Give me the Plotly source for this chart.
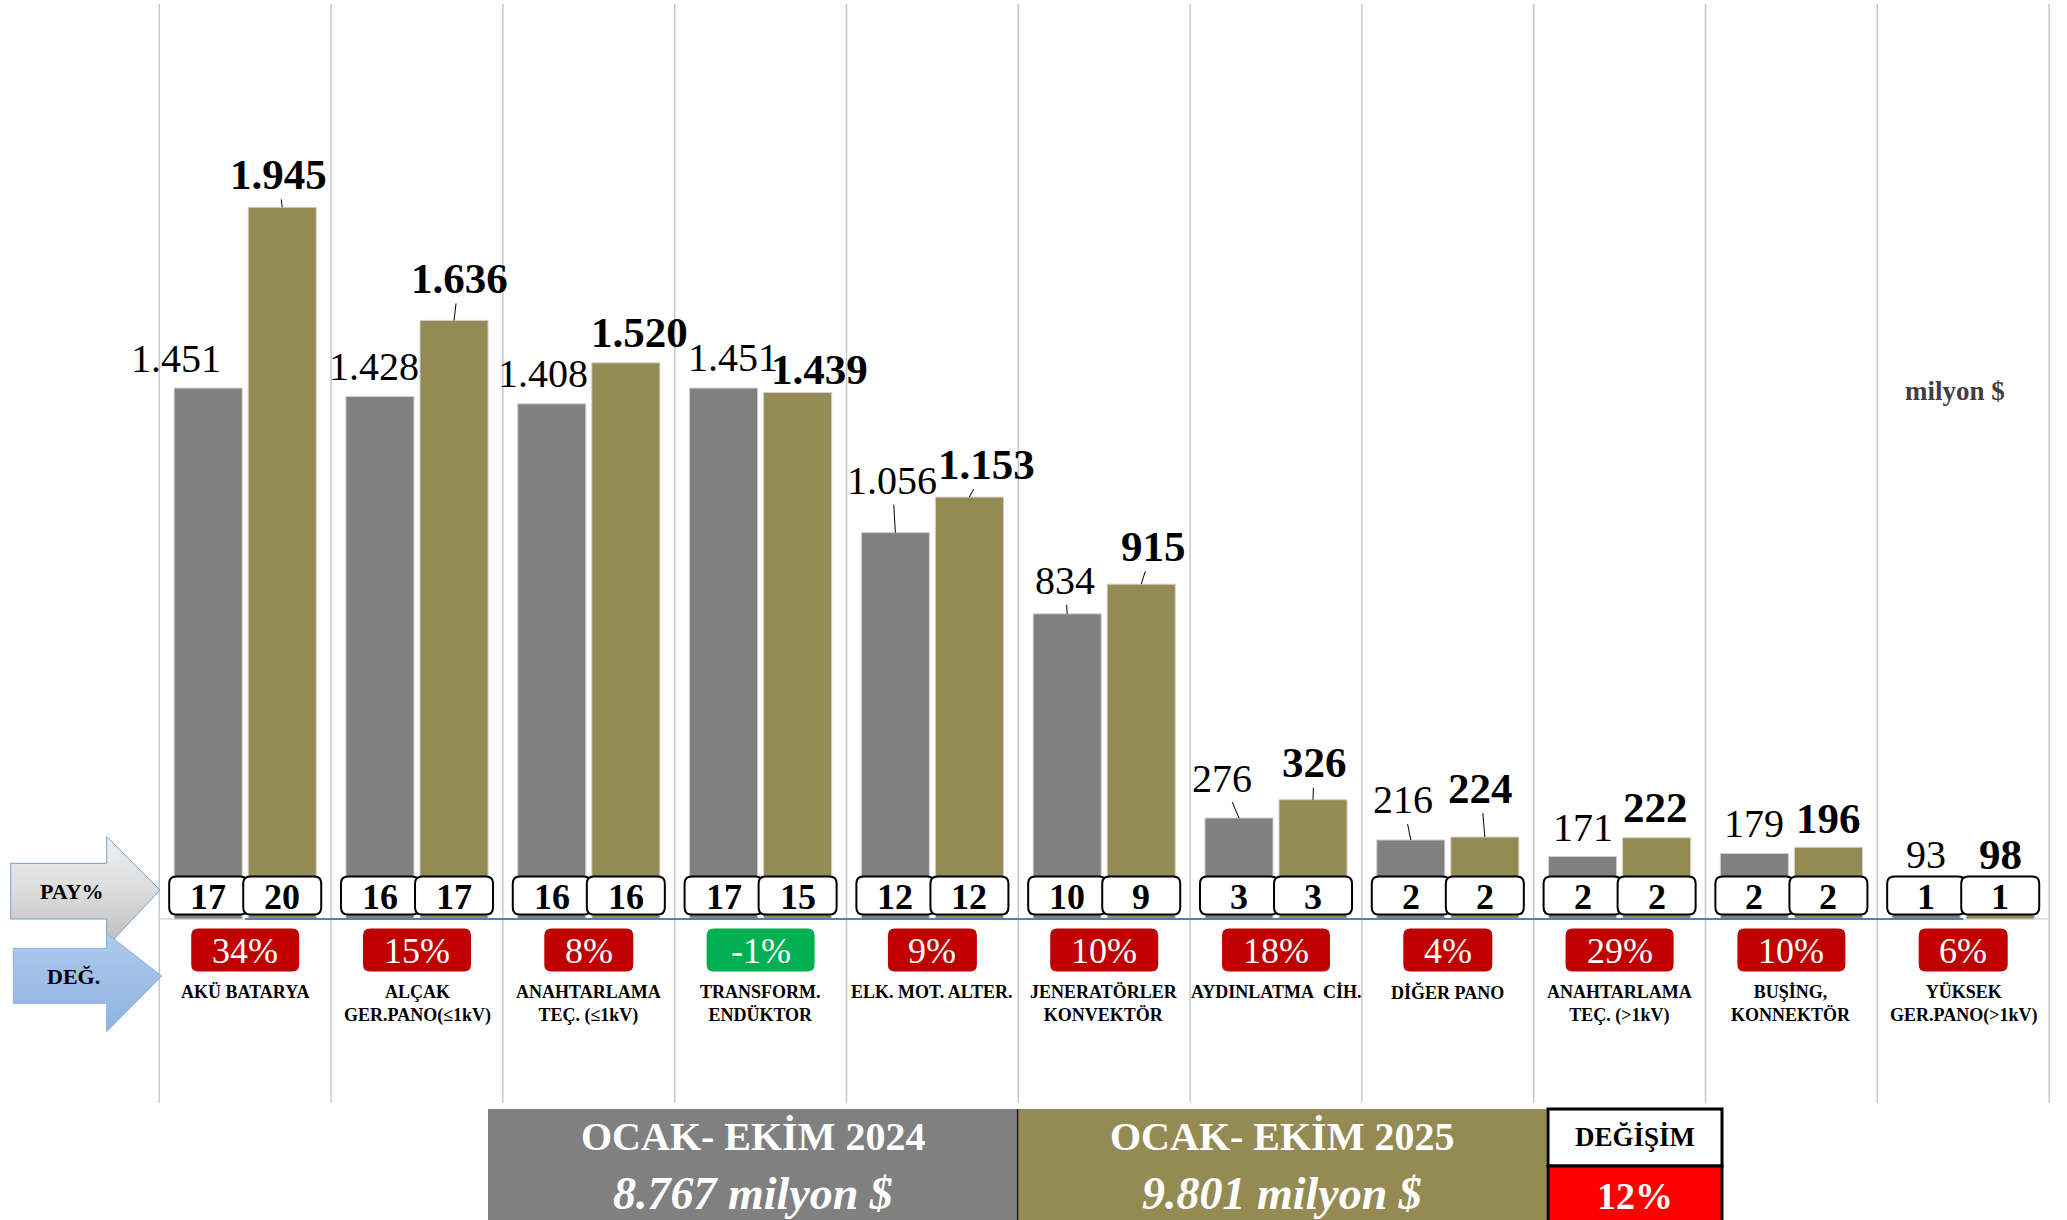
import plotly.graph_objects as go

# ---- data ---------------------------------------------------------------
categories = [
    "AKÜ BATARYA",
    "ALÇAK<br>GER.PANO(≤1kV)",
    "ANAHTARLAMA<br>TEÇ. (≤1kV)",
    "TRANSFORM.<br>ENDÜKTOR",
    "ELK. MOT. ALTER.",
    "JENERATÖRLER<br>KONVEKTÖR",
    "AYDINLATMA\u00a0 CİH.",
    "DİĞER PANO",
    "ANAHTARLAMA<br>TEÇ. (>1kV)",
    "BUŞİNG,<br>KONNEKTÖR",
    "YÜKSEK<br>GER.PANO(>1kV)",
]
values_2024 = [1451, 1428, 1408, 1451, 1056, 834, 276, 216, 171, 179, 93]
values_2025 = [1945, 1636, 1520, 1439, 1153, 915, 326, 224, 222, 196, 98]
share_2024 = [17, 16, 16, 17, 12, 10, 3, 2, 2, 2, 1]
share_2025 = [20, 17, 16, 15, 12, 9, 3, 2, 2, 2, 1]
change_pct = [34, 15, 8, -1, 9, 10, 18, 4, 29, 10, 6]
period_2024 = "OCAK- EKİM 2024"
period_2025 = "OCAK- EKİM 2025"
total_2024 = 8767
total_2025 = 9801
total_change = 12

# ---- styling ------------------------------------------------------------
W, H = 2067, 1220
FONT = "Liberation Serif"
GRAY = "#808080"
OLIVE = "#948a54"
RED = "#c00000"
GREEN = "#00b050"

X_PX = 171.8      # pixels per category
X0_PX = 159.3     # pixel of the first category boundary
BASE_PX = 919.0   # pixel of the zero line
Y_PX = 0.3659     # pixels per million $

BARGAP = 0.138
BARGROUPGAP = 0.081
HALF = (1 - BARGAP) / 4   # centre offset of each bar within its group

XR = [-0.5 - X0_PX / X_PX, -0.5 + (W - X0_PX) / X_PX]
YR = [-(H - BASE_PX) / Y_PX, BASE_PX / Y_PX]


def xd(px):
    return -0.5 + (px - X0_PX) / X_PX


def yd(py):
    return (BASE_PX - py) / Y_PX


def fmt(v):
    return f"{v:,}".replace(",", ".")


# label offsets (dx px, rise px above bar top, leader line)
OFFS_2024 = [(-32, 30, False), (-6, 30, False), (-9, 30, False), (9, 31, False),
             (-3, 52, True), (-2, 33, True), (-17, 40, True), (-8, 40, True),
             (0, 29, False), (0, 30, False), (0, 30, False)]
OFFS_2025 = [(-4, 33, True), (5, 42, True), (14, 30, False), (22, 23, False),
             (17, 33, True), (12, 38, True), (1, 37, True), (-4, 49, True),
             (-1, 30, False), (0, 29, False), (0, 29, False)]

xs = list(range(len(categories)))

fig = go.Figure()

# bars
fig.add_trace(go.Bar(x=xs, y=values_2024, marker=dict(color=GRAY, line=dict(color="#d0d0d0", width=1)),
                     hoverinfo="skip", name="2024"))
fig.add_trace(go.Bar(x=xs, y=values_2025, marker=dict(color=OLIVE, line=dict(color="#d0d0d0", width=1)),
                     hoverinfo="skip", name="2025"))

# left-hand arrows
pay_arrow = [(10.7, 863.3), (106.7, 863.3), (106.7, 836.7), (160, 890), (106.7, 946.7),
             (106.7, 919), (10.7, 919), (10.7, 863.3)]
deg_arrow = [(13.3, 948.3), (106.7, 948.3), (106.7, 933.3), (161.7, 976), (106.7, 1031.7),
             (106.7, 1003.3), (13.3, 1003.3), (13.3, 948.3)]
fig.add_trace(go.Scatter(
    x=[xd(p[0]) for p in pay_arrow], y=[yd(p[1]) for p in pay_arrow],
    mode="lines", fill="toself", fillcolor="#dedede",
    fillgradient=dict(type="vertical", colorscale=[[0, "#bdbdbd"], [0.5, "#dcdcdc"], [1, "#f0f0f0"]]),
    line=dict(color="#6f9fd8", width=1), hoverinfo="skip"))
fig.add_trace(go.Scatter(
    x=[xd(p[0]) for p in deg_arrow], y=[yd(p[1]) for p in deg_arrow],
    mode="lines", fill="toself", fillcolor="#9dbfe7",
    fillgradient=dict(type="vertical", colorscale=[[0, "#8db3e2"], [1, "#afc9ea"]]),
    line=dict(color="#8db3e2", width=1), hoverinfo="skip"))

shapes = []
annotations = []

# category boundaries
for i in range(len(categories) + 1):
    shapes.append(dict(type="line", xref="x", yref="y", x0=i - 0.5, x1=i - 0.5,
                       y0=yd(4), y1=yd(1103), line=dict(color="#c8c8c8", width=1.5), layer="below"))
# zero lines
shapes.append(dict(type="line", xref="x", yref="y", x0=-0.5, x1=len(categories) - 0.5, y0=0, y1=0,
                   line=dict(color="#d9d9d9", width=1.5), layer="below"))
shapes.append(dict(type="line", xref="x", yref="y", x0=0, x1=len(categories) - 1, y0=0, y1=0,
                   line=dict(color="#4f81bd", width=2)))


def rrect(xa, ya, w, h, r, fill, lc, lw):
    hw, hh = w / 2, h / 2
    path = (f"M{-hw + r},{-hh} L{hw - r},{-hh} Q{hw},{-hh} {hw},{-hh + r} "
            f"L{hw},{hh - r} Q{hw},{hh} {hw - r},{hh} L{-hw + r},{hh} "
            f"Q{-hw},{hh} {-hw},{hh - r} L{-hw},{-hh + r} Q{-hw},{-hh} {-hw + r},{-hh} Z")
    return dict(type="path", xref="x", yref="y", xsizemode="pixel", ysizemode="pixel",
                xanchor=xa, yanchor=ya, path=path, fillcolor=fill,
                line=dict(color=lc, width=lw), layer="above")


for i in xs:
    # value labels
    for val, off, xpos, bold in ((values_2024[i], OFFS_2024[i], i - HALF, False),
                                 (values_2025[i], OFFS_2025[i], i + HALF, True)):
        dx, rise, leader = off
        txt = f"<b>{fmt(val)}</b>" if bold else fmt(val)
        size = 43 if bold else 40
        if leader:
            annotations.append(dict(x=xpos, y=val, xref="x", yref="y", text=txt, showarrow=True,
                                    ax=dx, ay=-rise, arrowhead=0, arrowwidth=1, arrowcolor="black",
                                    standoff=0, startstandoff=0,
                                    font=dict(family=FONT, size=size, color="black")))
        else:
            annotations.append(dict(x=xpos, y=val, xref="x", yref="y", text=txt, showarrow=False,
                                    xshift=dx, yshift=rise, xanchor="center", yanchor="middle",
                                    font=dict(family=FONT, size=size, color="black")))

    # share boxes
    for share, xpos in ((share_2024[i], i - HALF), (share_2025[i], i + HALF)):
        shapes.append(rrect(xpos, yd(895.5), 78, 38, 7, "white", "black", 2))
        annotations.append(dict(x=xpos, y=yd(897), xref="x", yref="y", text=f"<b>{share}</b>",
                                showarrow=False, xanchor="center", yanchor="middle",
                                font=dict(family=FONT, size=36, color="black")))

    # change boxes
    ctext = f"{change_pct[i]}%"
    shapes.append(rrect(i, yd(950), 51 + 19 * len(ctext), 43, 7,
                        GREEN if change_pct[i] < 0 else RED, "rgba(0,0,0,0)", 0))
    annotations.append(dict(x=i, y=yd(951), xref="x", yref="y", text=ctext, showarrow=False,
                            xanchor="center", yanchor="middle",
                            font=dict(family=FONT, size=36, color="white")))

    # category names
    annotations.append(dict(x=i, y=yd(980), xref="x", yref="y", text=f"<b>{categories[i]}</b>",
                            showarrow=False, xanchor="center", yanchor="top",
                            font=dict(family=FONT, size=18, color="black")))

# arrow captions
annotations.append(dict(x=xd(72), y=yd(891), xref="x", yref="y", text="<b>PAY%</b>", showarrow=False,
                        xanchor="center", yanchor="middle",
                        font=dict(family=FONT, size=22, color="black")))
annotations.append(dict(x=xd(73), y=yd(976), xref="x", yref="y", text="<b>DEĞ.</b>", showarrow=False,
                        xanchor="center", yanchor="middle",
                        font=dict(family=FONT, size=22, color="black")))


def ptext(px, py, text, size, color):
    return dict(x=px / W, y=1 - py / H, xref="paper", yref="paper", text=text, showarrow=False,
                xanchor="center", yanchor="middle", font=dict(family=FONT, size=size, color=color))


# unit note
annotations.append(ptext(1955, 391, "<b>milyon $</b>", 27, "#404040"))


# totals table
def prect(x0, x1, y0, y1, fill, lc="rgba(0,0,0,0)", lw=0):
    return dict(type="rect", xref="paper", yref="paper", x0=x0 / W, x1=x1 / W,
                y0=1 - y1 / H, y1=1 - y0 / H, fillcolor=fill, line=dict(color=lc, width=lw), layer="above")


shapes.append(prect(488, 1017.6, 1109, 1225, GRAY))
shapes.append(prect(1017.6, 1546.5, 1109, 1225, OLIVE))
shapes.append(dict(type="line", xref="paper", yref="paper", x0=1017.6 / W, x1=1017.6 / W,
                   y0=0, y1=1 - 1109 / H, line=dict(color="#202020", width=1.5)))
shapes.append(prect(1548, 1722, 1109, 1166, "white", "black", 3))
shapes.append(prect(1548, 1722, 1166, 1226, "#ff0000", "black", 3))

for cx, period, total in ((752.8, period_2024, total_2024), (1282, period_2025, total_2025)):
    annotations.append(ptext(cx, 1136, f"<b>{period}</b>", 40, "white"))
    annotations.append(ptext(cx, 1193, f"<b><i>{fmt(total)} milyon $</i></b>", 46, "white"))
annotations.append(ptext(1635, 1137, "<b>DEĞİŞİM</b>", 27, "black"))
annotations.append(ptext(1635, 1196, f"<b>{total_change}%</b>", 38, "white"))

fig.update_layout(
    width=W, height=H, margin=dict(l=0, r=0, t=0, b=0),
    paper_bgcolor="white", plot_bgcolor="white", showlegend=False,
    barmode="group", bargap=BARGAP, bargroupgap=BARGROUPGAP,
    xaxis=dict(visible=False, range=XR, fixedrange=True),
    yaxis=dict(visible=False, range=YR, fixedrange=True),
    shapes=shapes, annotations=annotations,
)

fig.write_html("out.html")
